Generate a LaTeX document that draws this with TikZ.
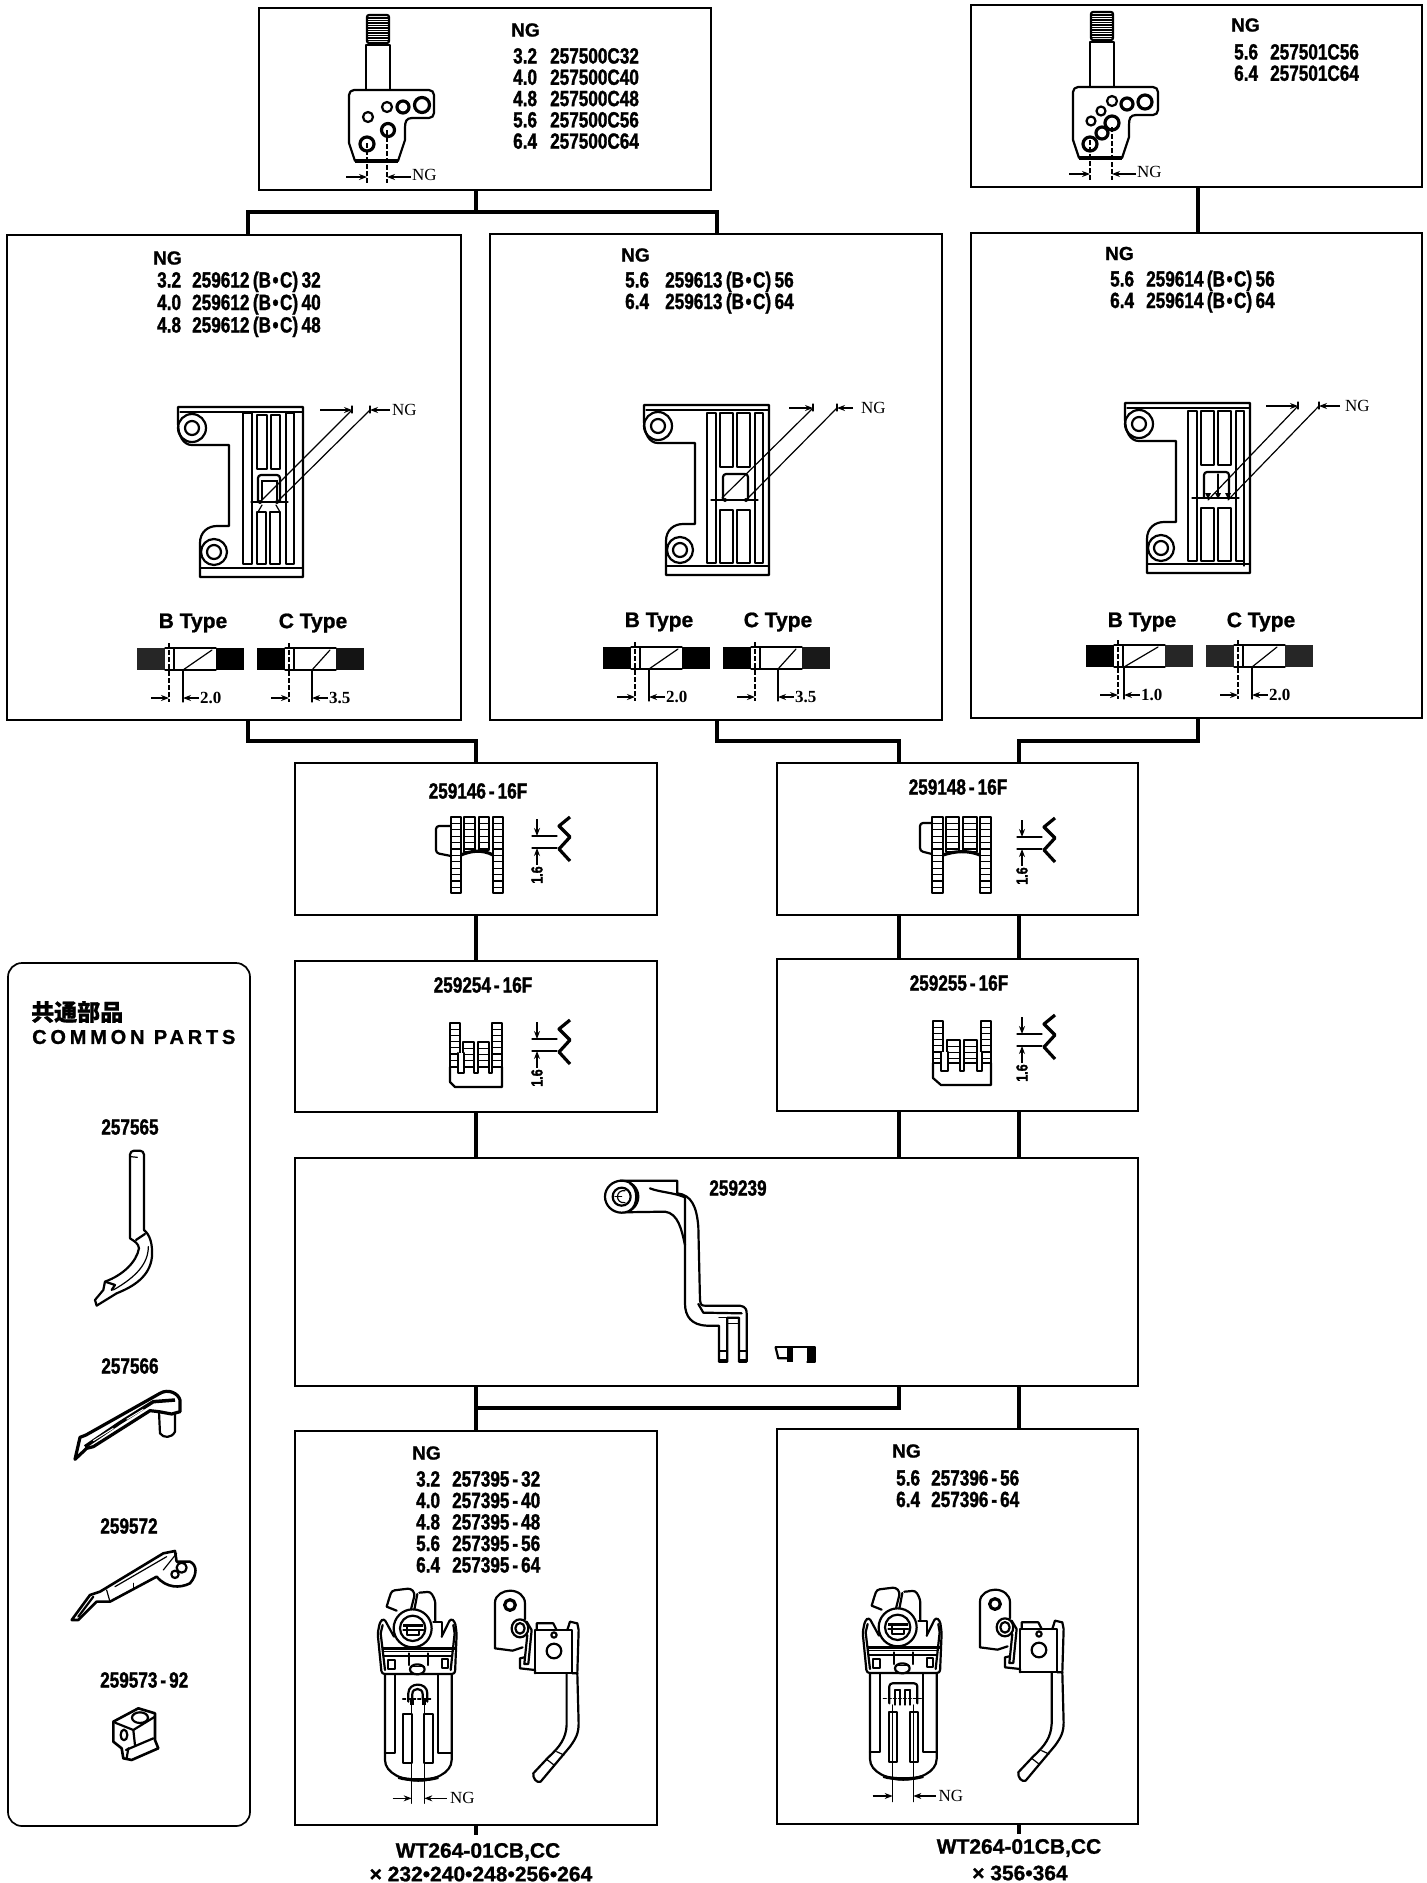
\documentclass[tikz,border=0pt]{standalone}
\usepackage{fontspec}
\usetikzlibrary{arrows.meta}
\newfontfamily\condf{Liberation Sans}[FakeStretch=0.78,BoldFeatures={FakeBold=1.4}]
\newfontfamily\plainf{Liberation Sans}[BoldFeatures={FakeBold=1}]
\newfontfamily\widef{Liberation Sans}[LetterSpace=19,BoldFeatures={FakeBold=1}]
\newfontfamily\dimf{Liberation Serif}
\newfontfamily\cjkf{Noto Sans CJK JP}[BoldFeatures={FakeBold=0.8}]
\newcommand\hy{\hspace{3pt}-\hspace{3pt}}
\newcommand\bc{\hspace{3.5pt}(B\hspace{1.5pt}•\hspace{1.5pt}C)\hspace{3.5pt}}
\tikzset{
  partbox/.style={draw=black,line width=1.7pt,fill=white,inner sep=0pt,rectangle},
  conn/.style={draw=black,line width=3.4pt,line cap=butt,line join=miter},
  part/.style={draw=black,line width=2.2pt,line join=round,line cap=round},
  heavy/.style={draw=black,line width=3.2pt,line join=round},
  fine/.style={draw=black,line width=1.2pt,line cap=round},
  centerline/.style={draw=black,line width=1.3pt,dash pattern=on 5pt off 2pt},
  dimarrow/.style={draw=black,line width=1.2pt,-{Stealth[length=8pt,width=6pt]}},
  numtxt/.style={inner sep=0pt,anchor=base west,font=\condf\bfseries\fontsize{22pt}{22pt}\selectfont},
  ngtitle/.style={inner sep=0pt,anchor=west,font=\plainf\bfseries\fontsize{19pt}{19pt}\selectfont},
  ngtxt/.style={inner sep=0pt,anchor=west,font=\dimf\fontsize{17pt}{17pt}\selectfont},
  dimtxt/.style={inner sep=0pt,anchor=west,font=\dimf\bfseries\fontsize{17pt}{17pt}\selectfont},
  typetxt/.style={inner sep=0pt,font=\plainf\bfseries\fontsize{21pt}{21pt}\selectfont},
  codetxt/.style={inner sep=0pt,font=\condf\bfseries\fontsize{22pt}{22pt}\selectfont},
  smalltxt/.style={inner sep=0pt,font=\condf\bfseries\fontsize{16pt}{16pt}\selectfont},
  wttxt/.style={inner sep=0pt,font=\plainf\bfseries\fontsize{21pt}{21pt}\selectfont},
}
% ---- box helper
\newcommand\boxnode[5]{%
  \pgfmathsetmacro\bw{#4-#2}\pgfmathsetmacro\bh{#5-#3}%
  \pgfmathsetmacro\bcx{(#2+#4)/2}\pgfmathsetmacro\bcy{(#3+#5)/2}%
  \node[partbox,minimum width=\bw pt,minimum height=\bh pt] (#1) at (\bcx,\bcy) {};}
% ---- list of NG / part numbers: name, x1, x2, y of first centre, dy, items
\newcommand\numlist[6]{%
  \foreach \aa/\bb [count=\ii from 0] in {#6}{%
    \node[numtxt] (#1-a\ii) at (#2,{#4+\ii*#5+6.5}) {\aa};
    \node[numtxt] (#1-b\ii) at (#3,{#4+\ii*#5+6.5}) {\bb};
  }}
% ---- needle clamp body (coordinates of the left clamp)
\newcommand\clampbody{%
  \draw[part,rounded corners=2pt] (367,43) -- (367,15) -- (389,15) -- (389,43) -- cycle;
  \foreach \yy in {18,20.5,...,41}{\draw[line width=1.3pt] (368,\yy) -- (388,\yy);}
  \draw[part] (366,89) -- (366,45) -- (390,45) -- (390,89);
  \draw[part,rounded corners=5pt] (349,143) -- (349,90) -- (434,90) -- (434,118) -- (412,118);
  \draw[part] (412,118) .. controls (406,118) and (405,122) .. (405,128) -- (405,140) -- (398,161);
  \draw[part] (349,143) -- (355,161);
  \draw[heavy] (355,161) -- (398,161);
}
\newcommand\clampdim[4]{% name, x1, x2, yoff
  \draw[centerline] (#2,143) -- (#2,183);
  \draw[centerline] (#3,130) -- (#3,183);
  \draw[dimarrow] ({#2-21},177) -- (#2,177);
  \draw[dimarrow] ({#3+24},177) -- (#3,177);
  \node[ngtxt] (#1) at ({#3+25},175) {NG};
}
% ---- needle plate (coordinates of the left plate)
\newcommand\plateshell{%
  \draw[part] (178,407) -- (303,407) -- (303,577) -- (200,577) -- (200,543)
     .. controls (200,532) and (208,526) .. (217,526) -- (229,526) -- (229,445) -- (192,445)
     .. controls (183,445) and (178,435) .. (178,423) -- cycle;
  \draw[fine] (180,412) -- (303,412);
  \draw[fine] (200,568) -- (303,568);
  \draw[part] (192,428) circle[radius=14];
  \draw[part] (192,428) circle[radius=7];
  \draw[part] (214,552) circle[radius=13];
  \draw[part] (214,552) circle[radius=7];
}
\newcommand\platedim[9]{% name, a, atop, b, btop, from1, from2, nglabel x, yoffset-of-dots
  \draw[fine] (#2,#9) -- (#3,410);
  \draw[fine] (#4,#9) -- (#5,410);
  \draw[dimarrow] (#6,410) -- (#3,410);
  \draw[dimarrow] (#7,410) -- (#5,410);
  \node[ngtxt] (#1) at (#8,410) {NG};
  \draw[fine] (#3,406) -- (#3,413);
  \draw[fine] (#5,406) -- (#5,413);
}
\newcommand\slotsnarrow{%
  \foreach \xa/\xb/\ya/\yb in {243/252/413/564,286/294/413/564,257/267/415/469,271/280/415/469,257/266/512/564,270/280/512/564}{%
    \draw[part] (\xa,\ya) rectangle (\xb,\yb);}
  \draw[part,rounded corners=3pt] (258,502) -- (258,475) -- (280,475) -- (280,502);
  \draw[fine] (262,500) -- (262,481) -- (277,481) -- (277,500);
  \draw[fine] (251,502) -- (288,502);
  \fill (260,502) circle[radius=2];
  \fill (277,502) circle[radius=2];
  \draw[fine] (258,512) -- (262,505);
  \draw[fine] (280,512) -- (276,505);
}
\newcommand\slotswide{%
  \foreach \xa/\xb/\ya/\yb in {241/250/415/565,289/297/415/565,254/267/415/469,271/284/415/469,254/267/512/565,271/284/512/565}{%
    \draw[part] (\xa,\ya) rectangle (\xb,\yb);}
  \draw[part,rounded corners=3pt] (257,502) -- (257,476) -- (282,476) -- (282,502);
  \draw[fine] (245,502) -- (292,502);
}
\newcommand\typebar[8]{% name,x0,y0,vert,diag,label,leftcol,rightcol
  \begin{scope}[shift={(#2,#3)}]
    \fill[#7] (0,0) rectangle (28,22);
    \fill[#8] (79,0) rectangle (107,22);
    \draw[fine] (28,0) -- (79,0);
    \draw[fine] (28,22) -- (79,22);
    \draw[fine] (37,0) -- (37,22);
    \draw[centerline] (32,-5) -- (32,54);
    \draw[fine] (#4,22) -- (#4,54);
    \draw[fine] (#4,22) -- (#5,2);
    \draw[dimarrow] (14,50) -- (32,50);
    \draw[dimarrow] ({#4+16},50) -- (#4,50);
    \node[dimtxt] (#1) at ({#4+17},50) {#6};
  \end{scope}}
% ---- feed dog pieces
\newcommand\rungcol[5]{%
  \foreach \yy in {#3,#4,...,#5}{\draw[line width=1.3pt] (#1,\yy) -- (#2,\yy);}
  \draw[part] (#1,#3) rectangle (#2,#5);}
\newcommand\pitch[3]{% name,x,y
  \draw[dimarrow] (#2,{#3-17}) -- (#2,#3);
  \draw[dimarrow] (#2,{#3+29}) -- (#2,{#3+12});
  \draw[fine] ({#2-5},#3) -- ({#2+20},#3);
  \draw[fine] ({#2-5},{#3+12}) -- ({#2+20},{#3+12});
  \draw[heavy] ({#2+33},{#3-19}) -- ({#2+22},{#3-10}) -- ({#2+33},{#3+1}) -- ({#2+22},{#3+13}) -- ({#2+33},{#3+25});
  \node[smalltxt,rotate=90] (#1) at (#2,{#3+39}) {1.6};
}
% ---- looper, coordinates of zoomed left assembly
\newcommand\looper{%
  \begin{scope}[x=0.3333pt,y=-0.3333pt]
    % clamp head
    \draw[part,rounded corners=3pt] (146,90) -- (155,62) -- (212,55) -- (225,70) -- (212,122);
    \draw[part,rounded corners=3pt] (238,68) -- (272,65) -- (286,92) -- (286,152);
    \draw[part] (232,72) -- (222,125);
    \draw[part] (146,90) -- (140,110) -- (170,122);
    % ring
    \draw[part,fill=white] (218,175) circle[radius=57];
    \draw[part] (218,175) circle[radius=38];
    \fill (190,163) rectangle (248,172);
    \draw[part] (190,180) -- (250,180);
    \draw[part] (200,165) -- (200,195) -- (236,195) -- (236,180);
    % wings
    \draw[part,rounded corners=3pt] (162,200) -- (132,145) -- (120,155) -- (113,190) -- (125,312) -- (345,312) -- (350,190) -- (345,155) -- (332,145) -- (305,200);
    \draw[part] (128,165) -- (122,190) -- (135,300);
    \draw[part] (340,165) -- (344,190) -- (332,300);
    \draw[part] (280,155) -- (305,155) -- (305,200);
    \draw[line width=2.6pt] (125,235) -- (345,235);
    \draw[line width=1.4pt] (132,245) -- (335,245);
    \draw[line width=1.4pt] (132,258) -- (335,258);
    \draw[part] (145,270) rectangle (165,298);
    \draw[part] (305,268) rectangle (325,295);
    \draw[part] (207,250) -- (207,285);
    \draw[part] (265,250) -- (265,285);
    \draw[part,fill=white] (232,298) ellipse[x radius=22,y radius=15];
    \draw[line width=1.5pt] (210,290) -- (255,290);
    % lower plate
    \draw[part] (135,312) -- (135,570) .. controls (135,610) and (190,632) .. (235,632) .. controls (280,632) and (335,610) .. (335,570) -- (335,312);
    \draw[part] (135,548) -- (165,548) -- (165,315);
    \draw[part] (335,548) -- (295,548) -- (295,315);
    \draw[heavy] (175,622) .. controls (205,632) and (265,632) .. (295,622);
    % side view ear
    \draw[part] (465,235) -- (465,98) .. controls (465,75) and (490,62) .. (510,62) .. controls (535,62) and (555,78) .. (555,100) -- (555,148);
    \draw[part] (465,235) -- (518,242) -- (548,232);
    \draw[heavy] (510,105) circle[radius=16];
    \draw[part,fill=white] (540,175) ellipse[x radius=25,y radius=27];
    \draw[part] (540,175) ellipse[x radius=14,y radius=16];
    \draw[part] (560,155) -- (575,180) -- (565,282) -- (553,282) -- (562,195);
    % block
    \draw[part,fill=white] (585,180) rectangle (697,310);
    \draw[part] (590,180) -- (590,160) -- (640,160) -- (650,180);
    \draw[part] (682,180) -- (690,155) -- (712,160) -- (716,180) -- (712,310) -- (697,310);
    \draw[part] (642,195) circle[radius=8];
    \draw[part] (642,243) circle[radius=22];
    \draw[part] (553,262) -- (540,265) -- (540,295) -- (585,300) -- (585,310);
    % foot
    \draw[part] (680,310) -- (680,465) .. controls (678,505) and (660,530) .. (625,562) -- (580,610) .. controls (578,625) and (590,640) .. (602,635) -- (690,530) .. controls (708,505) and (716,490) .. (716,460) -- (712,310);
    \draw[fine] (620,568) -- (642,585);
    \draw[fine] (650,545) -- (672,555);
  \end{scope}}
\begin{document}
\begin{tikzpicture}[x=1pt,y=-1pt]
\useasboundingbox (0,0) rectangle (1427,1883);
\fill[white] (0,0) rectangle (1427,1883);

% ===== boxes
\boxnode{boxA}{259}{8}{711}{190}
\boxnode{boxB}{971}{5}{1422}{187}
\boxnode{boxC}{7}{235}{461}{720}
\boxnode{boxD}{490}{234}{942}{720}
\boxnode{boxE}{971}{233}{1422}{718}
\boxnode{boxF}{295}{763}{657}{915}
\boxnode{boxG}{777}{763}{1138}{915}
\boxnode{boxH}{295}{961}{657}{1112}
\boxnode{boxI}{777}{959}{1138}{1111}
\boxnode{boxJ}{295}{1158}{1138}{1386}
\boxnode{boxK}{295}{1431}{657}{1825}
\boxnode{boxL}{777}{1429}{1138}{1824}
\node[partbox,rounded corners=14pt,minimum width=242pt,minimum height=863pt] (boxCommon) at (129,1394.5) {};

% ===== connectors
\coordinate (busA) at (476,212);
\coordinate (busCF) at (360,741);
\coordinate (busDG) at (800,741);
\coordinate (busEG) at (1100,741);
\coordinate (busJ) at (476,1408);
\coordinate (stemK) at (476,1835);
\coordinate (stemL) at (1019,1834);
\draw[conn] ([xshift=-9pt]boxA.south) -- (busA);
\draw[conn] ([xshift=14pt]boxC.north) |- (busA) -| ([xshift=1pt]boxD.north);
\draw[conn] ([xshift=1.5pt]boxB.south) -- ([xshift=1.5pt]boxE.north);
\draw[conn] ([xshift=14pt]boxC.south) |- (busCF) -| (boxF.north);
\draw[conn] ([xshift=1pt]boxD.south) |- (busDG) -| ([xshift=-58.5pt]boxG.north);
\draw[conn] ([xshift=1.5pt]boxE.south) |- (busEG) -| ([xshift=61.5pt]boxG.north);
\draw[conn] (boxF.south) -- (boxH.north);
\draw[conn] ([xshift=-58.5pt]boxG.south) -- ([xshift=-58.5pt]boxI.north);
\draw[conn] ([xshift=61.5pt]boxG.south) -- ([xshift=61.5pt]boxI.north);
\draw[conn] (boxH.south) -- (boxH.south |- boxJ.north);
\draw[conn] ([xshift=-58.5pt]boxI.south) -- ([xshift=-58.5pt]boxI.south |- boxJ.north);
\draw[conn] ([xshift=61.5pt]boxI.south) -- ([xshift=61.5pt]boxI.south |- boxJ.north);
\draw[conn] (boxK.north |- boxJ.south) -- (boxK.north);
\draw[conn] ([xshift=-58.5pt]boxL.north |- boxJ.south) |- (busJ);
\draw[conn] ([xshift=61.5pt]boxL.north |- boxJ.south) -- ([xshift=61.5pt]boxL.north);
\draw[conn] (boxK.south) -- (stemK);
\draw[conn] ([xshift=61.5pt]boxL.south) -- (stemL);

% ===== top clamps
\clampbody
\draw[part] (368,117) circle[radius=5];
\draw[part] (387,107) circle[radius=5];
\draw[heavy] (403,107) circle[radius=6];
\draw[heavy] (422,105) circle[radius=7.5];
\draw[heavy] (388,130) circle[radius=6.5];
\draw[heavy] (367,144) circle[radius=7];
\clampdim{ngA}{367}{387}{0}
\node[ngtitle] (titleA) at (511,30) {NG};
\numlist{listA}{513}{550}{57}{21.3}{3.2/257500C32,4.0/257500C40,4.8/257500C48,5.6/257500C56,6.4/257500C64}

\begin{scope}[shift={(724,-3)}]
\clampbody
\draw[heavy] (421,105) circle[radius=7];
\draw[heavy] (403,107) circle[radius=6];
\draw[part] (388,104) circle[radius=5];
\draw[part] (377,114) circle[radius=4.5];
\draw[part] (367,124) circle[radius=4.5];
\draw[heavy] (388,126) circle[radius=7];
\draw[heavy] (378,136) circle[radius=6];
\draw[heavy] (366,147) circle[radius=7];
\clampdim{ngB}{366}{388}{0}
\end{scope}
\node[ngtitle] (titleB) at (1231,25) {NG};
\numlist{listB}{1234}{1270}{53}{21.3}{5.6/257501C56,6.4/257501C64}

% ===== needle plates
\plateshell
\slotsnarrow
\platedim{ngC}{260}{352}{277}{370}{320}{390}{392}{502}
\node[ngtitle] (titleC) at (153,258) {NG};
\numlist{listC}{157}{192}{281}{22.5}{3.2/259612\bc 32,4.0/259612\bc 40,4.8/259612\bc 48}
\node[typetxt] (typeCb) at (193,623) {B Type};
\node[typetxt] (typeCc) at (313,623) {C Type};
\typebar{valCb}{137}{648}{46}{75}{2.0}{black!85}{black}
\typebar{valCc}{257}{648}{55}{73}{3.5}{black}{black!92}

\begin{scope}[shift={(466,-2)}]
\plateshell
\slotswide
\fill (259,502) circle[radius=2];
\fill (280,502) circle[radius=2];
\platedim{ngD}{256}{347}{282}{371}{323}{387}{395}{500}
\end{scope}
\node[ngtitle] (titleD) at (621,255) {NG};
\numlist{listD}{625}{665}{281}{21.5}{5.6/259613\bc 56,6.4/259613\bc 64}
\node[typetxt] (typeDb) at (659,622) {B Type};
\node[typetxt] (typeDc) at (778,622) {C Type};
\typebar{valDb}{603}{647}{46}{75}{2.0}{black}{black}
\typebar{valDc}{723}{647}{55}{73}{3.5}{black}{black!90}

\begin{scope}[shift={(947,-4)}]
\plateshell
\slotswide
\draw[fine] (297,415) -- (297,570);
\foreach \xx in {261,271,281}{\fill (\xx,503) -- ({\xx-3},497) -- ({\xx+3},497) -- cycle;}
\draw[fine] (271,478) -- (271,497);
\platedim{ngE}{261}{351}{281}{372}{319}{393}{398}{504}
\end{scope}
\node[ngtitle] (titleE) at (1105,253.5) {NG};
\numlist{listE}{1110}{1146}{280}{21.5}{5.6/259614\bc 56,6.4/259614\bc 64}
\node[typetxt] (typeEb) at (1142,622) {B Type};
\node[typetxt] (typeEc) at (1261,622) {C Type};
\typebar{valEb}{1086}{645}{38}{72}{1.0}{black}{black!85}
\typebar{valEc}{1206}{645}{46}{71}{2.0}{black!85}{black!85}

% ===== feed dogs, upper row
\node[codetxt] (codeF) at (478,791) {259146\hy 16F};
\draw[part,rounded corners=3pt] (451,826) -- (436,826) -- (436,853) -- (451,856);
\rungcol{451}{461}{817}{823.4}{893}
\rungcol{493}{503}{817}{823.4}{893}
\rungcol{464}{475}{817}{823.4}{852}
\rungcol{479}{489}{817}{823.4}{850}
\draw[heavy] (461,855) .. controls (470,851) and (482,849) .. (493,855);
\pitch{pitchF}{537}{836}

\node[codetxt] (codeG) at (958,787) {259148\hy 16F};
\draw[part,rounded corners=3pt] (932,823) -- (920,823) -- (920,851) -- (932,854);
\rungcol{932}{943}{817}{823.4}{893}
\rungcol{980}{991}{817}{823.4}{893}
\rungcol{946}{959}{817}{823.4}{852}
\rungcol{963}{977}{817}{823.4}{852}
\draw[heavy] (943,855) .. controls (955,851) and (968,850) .. (980,855);
\pitch{pitchG}{1022}{837}

% ===== feed dogs, lower row
\node[codetxt] (codeH) at (483,985) {259254\hy 16F};
\rungcol{450}{460}{1023}{1029.2}{1067}
\rungcol{492}{502}{1023}{1029.2}{1067}
\rungcol{463}{474}{1042}{1048.2}{1067}
\rungcol{478}{489}{1042}{1048.2}{1067}
\draw[part] (450,1067) -- (450,1082) -- (455,1087) -- (502,1087) -- (502,1067);
\foreach \xx/\xy in {458/464,474/478,489/492}{\draw[part,fill=white] (\xx,1053) -- (\xx,1073) -- (\xy,1073) -- (\xy,1053);}
\pitch{pitchH}{537}{1039}

\node[codetxt] (codeI) at (959,983) {259255\hy 16F};
\rungcol{933}{943}{1021}{1027.2}{1063}
\rungcol{981}{991}{1021}{1027.2}{1063}
\rungcol{947}{960}{1040}{1046.2}{1063}
\rungcol{964}{977}{1040}{1046.2}{1063}
\draw[part] (933,1063) -- (933,1078) -- (941,1085) -- (991,1085) -- (991,1063);
\foreach \xx/\xy in {941/948,960/964,977/982}{\draw[part,fill=white] (\xx,1052) -- (\xx,1071) -- (\xy,1071) -- (\xy,1052);}
\pitch{pitchI}{1022}{1034}

% ===== 259239
\node[codetxt] (codeJ) at (738,1188) {259239};
\begin{scope}[shift={(570,1160)},x=0.3333pt,y=-0.3333pt]
  \draw[part] (150,62) -- (322,62) -- (322,100) .. controls (365,105) and (380,140) .. (385,200) -- (390,420) .. controls (392,435) and (395,437) .. (405,437) -- (510,437) .. controls (528,440) and (530,450) .. (530,460) -- (530,605) -- (507,605) -- (507,473) -- (472,473) -- (472,605) -- (447,605) -- (447,497) -- (410,497) .. controls (365,495) and (345,470) .. (345,430) -- (345,255) .. controls (335,210) and (325,160) .. (285,155) -- (150,157);
  \draw[part,fill=white] (155,110) ellipse[x radius=50,y radius=48];
  \draw[part] (180,70) .. controls (205,85) and (205,135) .. (180,152);
  \draw[part] (155,110) circle[radius=27];
  \draw[fine] (165,92) .. controls (135,88) and (135,132) .. (165,128);
  \draw[fine] (135,110) -- (155,110);
  \draw[part] (240,85) .. controls (270,97) and (310,97) .. (345,112) -- (345,255);
  \draw[part] (385,432) -- (400,458) -- (515,460);
  \draw[fine] (447,473) -- (472,473);
  \draw[fine] (472,490) -- (507,490);
  \fill (447,597) rectangle (472,605);
  \fill (507,597) rectangle (530,605);
  \draw[fine] (447,573) -- (472,573);
  \draw[fine] (507,573) -- (530,573);
  \draw[part] (617,562) -- (735,562) -- (735,605) -- (712,605);
  \draw[part] (617,562) -- (625,595) -- (650,595);
  \fill (650,562) rectangle (668,605);
  \fill (712,562) rectangle (735,605);
\end{scope}

% ===== common parts
\node[inner sep=0pt,anchor=west,font=\cjkf\bfseries\fontsize{23pt}{23pt}\selectfont] (cpJa) at (31,1012) {共通部品};
\node[inner sep=0pt,anchor=west,font=\widef\bfseries\fontsize{20pt}{20pt}\selectfont] (cpEn) at (32,1037) {COMMON PARTS};
\node[codetxt] (cp1) at (130,1127) {257565};
\node[codetxt] (cp2) at (130,1366) {257566};
\node[codetxt] (cp3) at (129,1526) {259572};
\node[anchor=west,codetxt] (cp4) at (100,1680) {259573\hy 92};
\begin{scope}[shift={(0,960)},x=0.3333pt,y=-0.3333pt]
  \draw[part,rounded corners=4pt] (390,835) -- (390,572) -- (432,572) -- (432,810);
  \draw[fine] (392,590) -- (412,592);
  \draw[part] (432,810) .. controls (450,825) and (458,850) .. (456,890) .. controls (450,950) and (400,980) .. (350,1000) -- (290,1037) -- (285,1020) -- (310,990) -- (315,965) .. controls (370,945) and (410,905) .. (417,865) .. controls (415,850) and (405,845) .. (390,835);
  \draw[part] (408,840) -- (435,822);
  \draw[fine] (445,860) .. controls (445,910) and (410,950) .. (340,990);
  \draw[part] (315,965) -- (345,975) -- (335,990);
\end{scope}
\begin{scope}[shift={(60,1380)},x=0.3333pt,y=-0.3333pt]
  \draw[part] (297,95) -- (300,160) .. controls (310,175) and (335,175) .. (345,155) -- (345,100);
  \draw[heavy] (45,238) -- (60,172) -- (78,165) -- (300,40) .. controls (325,25) and (355,40) .. (360,60) -- (360,95) -- (335,102) -- (297,95) -- (270,92) -- (100,200) -- (80,205) -- cycle;
  \draw[line width=3.5pt] (75,200) -- (180,128) -- (280,65) -- (345,60);
  \draw[white,line width=1pt] (100,182) -- (160,145);
  \draw[white,line width=1pt] (200,118) -- (250,88);
\end{scope}
\begin{scope}[shift={(0,1420)},x=0.3333pt,y=-0.3333pt]
  \draw[part,line width=2.6pt] (215,600) -- (270,525) -- (300,515) -- (490,400) -- (525,393) -- (530,425) -- (570,425) .. controls (592,435) and (592,465) .. (570,490) .. controls (540,505) and (500,505) .. (470,470) -- (330,545) -- (290,545) -- (235,600) -- cycle;
  \draw[part] (545,443) circle[radius=15];
  \draw[part] (525,463) circle[radius=11];
  \draw[fine] (345,500) -- (500,410);
  \draw[part] (235,590) -- (280,530);
  \draw[fine] (320,510) -- (330,545);
  \draw[fine] (400,490) -- (400,505);
  \draw[fine] (530,400) -- (490,450);
  % 259573-92
  \draw[part,line width=2.6pt] (340,905) -- (415,865) -- (465,880) -- (465,960) -- (475,985) -- (395,1020) -- (370,1015) -- (365,985) -- (340,965) -- cycle;
  \draw[part] (420,893) ellipse[x radius=24,y radius=16];
  \draw[part] (345,908) -- (400,930) -- (465,890);
  \draw[part] (400,930) -- (405,975);
  \draw[part] (372,945) ellipse[x radius=10,y radius=16];
  \draw[part] (378,990) -- (460,955);
  \draw[part] (380,1015) -- (385,985);
\end{scope}

% ===== loopers
\node[ngtitle] (titleK) at (412,1453) {NG};
\numlist{listK}{416}{452}{1480}{21.5}{3.2/257395\hy 32,4.0/257395\hy 40,4.8/257395\hy 48,5.6/257395\hy 56,6.4/257395\hy 64}
\begin{scope}[shift={(340,1570)}]
\looper
\begin{scope}[x=0.3333pt,y=-0.3333pt]
  \draw[part] (205,395) -- (205,370) .. controls (205,335) and (262,335) .. (262,370) -- (262,395);
  \draw[part] (217,388) -- (217,372) .. controls (217,352) and (248,352) .. (248,372) -- (248,388);
  \fill (210,385) rectangle (222,405);
  \fill (245,385) rectangle (257,405);
  \draw[fine,dash pattern=on 3pt off 2pt] (188,387) -- (277,387);
  \draw[part] (190,432) rectangle (215,580);
  \draw[part] (253,432) rectangle (280,580);
  \draw[fine] (215,405) -- (215,700);
  \draw[fine] (253,405) -- (253,700);
  \draw[dimarrow] (158,685) -- (215,685);
  \draw[dimarrow] (320,685) -- (253,685);
  \node[ngtxt] (ngK) at (330,685) {NG};
\end{scope}
\end{scope}
\node[wttxt] (wtK) at (478,1852) {WT264-01CB,CC};
\node[wttxt] (mulK) at (481,1874) {× 232•240•248•256•264};

\node[ngtitle] (titleL) at (892,1451) {NG};
\numlist{listL}{896}{931}{1479}{21.5}{5.6/257396\hy 56,6.4/257396\hy 64}
\begin{scope}[shift={(825,1569)}]
\looper
\end{scope}
\begin{scope}[shift={(840,1580)},x=0.3333pt,y=-0.3333pt]
  \draw[part,rounded corners=3pt] (148,370) -- (148,310) -- (232,310) -- (232,370);
  \foreach \xx in {165,180,195,210}{\draw[fine] (\xx,330) -- (\xx,375);}
  \draw[part] (165,330) -- (180,330);
  \draw[part] (195,330) -- (210,330);
  \draw[fine,dash pattern=on 3pt off 2pt] (130,355) -- (250,355);
  \draw[part] (148,395) rectangle (172,545);
  \draw[part] (210,395) rectangle (235,545);
  \draw[fine] (158,375) -- (158,665);
  \draw[fine] (220,375) -- (220,665);
  \draw[dimarrow] (98,648) -- (158,648);
  \draw[dimarrow] (288,648) -- (220,648);
  \node[ngtxt] (ngL) at (295,648) {NG};
\end{scope}
\node[wttxt] (wtL) at (1019,1848) {WT264-01CB,CC};
\node[wttxt] (mulL) at (1020,1873) {× 356•364};
\end{tikzpicture}
\end{document}
